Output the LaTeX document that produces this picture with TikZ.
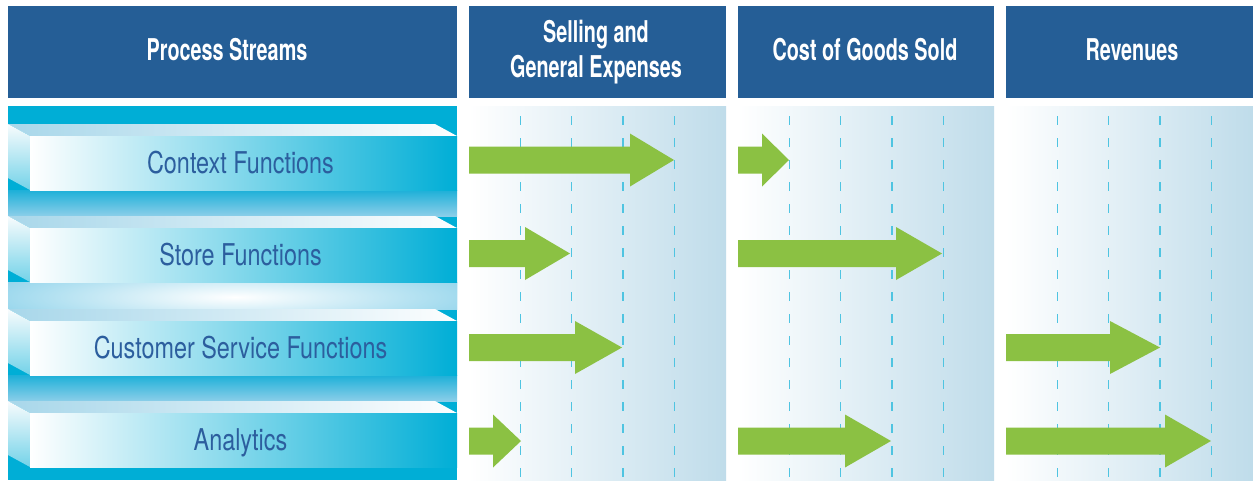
\documentclass[tikz,border=0pt]{standalone}
\usepackage{fontspec}
\newfontfamily\hdrfont[FakeStretch=0.66]{TeX Gyre Heros}
\newfontfamily\rowfont[FakeStretch=0.78]{TeX Gyre Heros}
\definecolor{hdrblue}{HTML}{255E96}
\definecolor{streamcyan}{HTML}{00AED6}
\definecolor{paleblue}{HTML}{BFDCEA}
\definecolor{dashcyan}{HTML}{4FC4E1}
\definecolor{arrowgreen}{HTML}{8BC143}
\definecolor{labelblue}{HTML}{2C5E9E}
\definecolor{facemid}{HTML}{A8D7EA}
\definecolor{gaptop}{HTML}{1DB0D8}
\definecolor{gapbot}{HTML}{8BCEE9}

% block arrow: start x, tip x, centre y (downwards), head length
\newcommand\blockarrow[4]{%
  \fill[arrowgreen] ({#1},{-#3+13.5}) -- ({#2-#4},{-#3+13.5}) -- ({#2-#4},{-#3+26.5})
    -- ({#2},{-#3}) -- ({#2-#4},{-#3-26.5}) -- ({#2-#4},{-#3-13.5}) -- ({#1},{-#3-13.5}) -- cycle;}

% one bevelled bar of the process-stream panel, top edge at y = #1
\newcommand\streambar[1]{%
  \shade[left color=facemid, right color=white!96!paleblue]
    (8,{-#1}) -- (435,{-#1}) -- (457,{-#1-12}) -- (30,{-#1-12}) -- cycle;
  \shade[top color=white!90!paleblue, bottom color=streamcyan!55!white]
    (8,{-#1}) -- (30,{-#1-12}) -- (30,{-#1-66}) -- (8,{-#1-54}) -- cycle;
  \shade[left color=white, middle color=facemid, right color=streamcyan]
    (30,{-#1-12}) rectangle (457,{-#1-66});}

\tikzset{
  hdrbox/.style={fill=hdrblue},
  hdrtext/.style={text=white, font=\hdrfont\bfseries\fontsize{30}{35}\selectfont, align=center, inner sep=0pt},
  rowtext/.style={text=labelblue, font=\rowfont\fontsize{30}{32}\selectfont, inner sep=0pt, anchor=base},
  guide/.style={draw=dashcyan, line width=1.3pt, dash pattern=on 9pt off 13pt},
}

\begin{document}
\begin{tikzpicture}[x=1pt,y=1pt]
\useasboundingbox[fill=white] (0,0) rectangle (1253,-480);

% column headers
\fill[hdrbox] (8,-6) rectangle (457,-98);
\fill[hdrbox] (469,-6) rectangle (726,-98);
\fill[hdrbox] (738,-6) rectangle (994,-98);
\fill[hdrbox] (1006,-6) rectangle (1253,-98);
\node[hdrtext] (hstreams) at (227,-50) {Process Streams};
\node[hdrtext] (hselling) at (596,-52) {Selling and\\General Expenses};
\node[hdrtext] (hcogs) at (865,-50) {Cost of Goods Sold};
\node[hdrtext] (hrevenue) at (1132,-50) {Revenues};

% process-stream panel
\fill[streamcyan] (8,-106) rectangle (457,-480);
\foreach \a/\b in {190/216, 282/309, 375/401} {
  \shade[top color=gaptop, bottom color=gapbot] (8,-\a) rectangle (457,-\b);
}
\begin{scope}
  \clip (8,-282) rectangle (457,-309);
  \shade[inner color=white, outer color=gapbot!85!streamcyan] (235,-297) ellipse (330 and 44);
\end{scope}
\foreach \t in {124,216,309,401} { \streambar{\t} }

\node[rowtext] (rcontext)  at (240.5,-173.5) {Context Functions};
\node[rowtext] (rstore)    at (240.5,-265.5) {Store Functions};
\node[rowtext] (rcustomer) at (240.5,-358.5) {Customer Service Functions};
\node[rowtext] (ranalytic) at (240.5,-450.5) {Analytics};

% cost columns with guide lines
\foreach \l/\r in {469/726, 738/994, 1006/1253} {
  \shade[left color=white, right color=paleblue] (\l,-106) rectangle (\r,-480);
  \foreach \i in {1,...,4} {
    \draw[guide] ({\l+51.3*\i},-116) -- ({\l+51.3*\i},-480);
  }
}

% contribution arrows
\blockarrow{469}{674}{160}{44}
\blockarrow{738}{789}{160}{27}
\blockarrow{469}{570}{253.5}{45}
\blockarrow{738}{942}{253.5}{46}
\blockarrow{469}{622}{347.5}{47}
\blockarrow{1006}{1160}{347.5}{50}
\blockarrow{469}{521}{441}{28}
\blockarrow{738}{891}{441}{46}
\blockarrow{1006}{1211}{441}{46}
\end{tikzpicture}
\end{document}
